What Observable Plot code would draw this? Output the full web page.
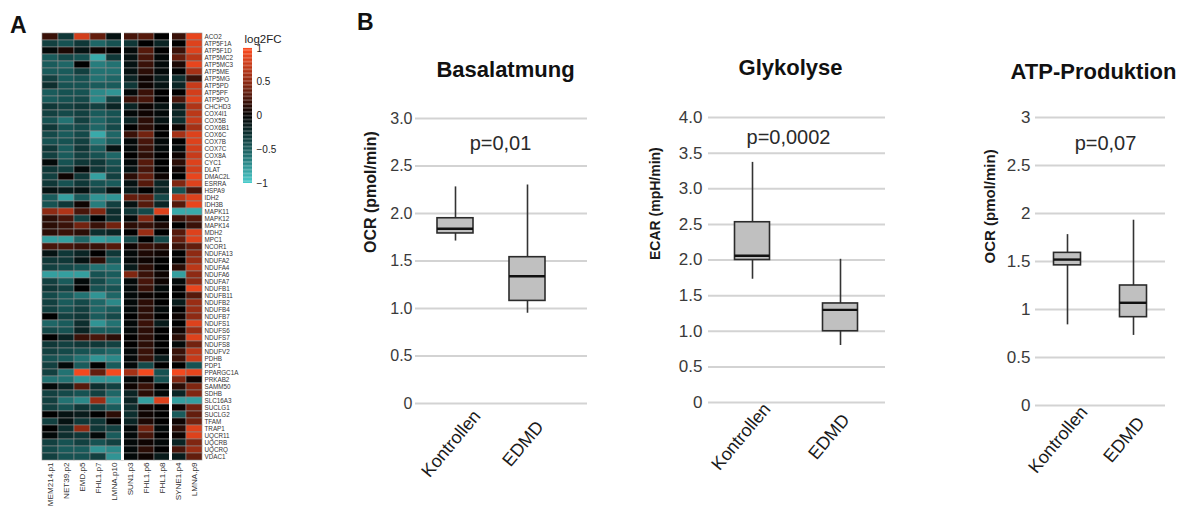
<!DOCTYPE html>
<html><head><meta charset="utf-8">
<script src="https://cdn.jsdelivr.net/npm/d3@7"></script>
<script src="https://cdn.jsdelivr.net/npm/@observablehq/plot@0.6"></script>
<style>
body{margin:0;background:#fff;font-family:"Liberation Sans",Arial,sans-serif;}
#root{position:relative;width:1190px;height:514px;overflow:hidden;background:#fff;}
.abs{position:absolute;}
.panel{position:absolute;font-weight:bold;font-size:23px;line-height:23px;color:#111;}
</style></head><body><div id="root"></div>
<script>
// ---------- Panel A data ----------
const samples = ["MEM214.p1","NET39.p2","EMD.p5","FHL1.p7","LMNA.p10","SUN1.p3","FHL1.p6","FHL1.p8","SYNE1.p4","LMNA.p9"];
const groupStarts = ["SUN1.p3","SYNE1.p4"];
const genes = ["ACO2","ATP5F1A","ATP5F1D","ATP5MC2","ATP5MC3","ATP5ME","ATP5MG","ATP5PD","ATP5PF","ATP5PO","CHCHD3","COX4I1","COX5B","COX6B1","COX6C","COX7B","COX7C","COX8A","CYC1","DLAT","DMAC2L","ESRRA","HSPA9","IDH2","IDH3B","MAPK11","MAPK12","MAPK14","MDH2","MPC1","NCOR1","NDUFA13","NDUFA2","NDUFA4","NDUFA6","NDUFA7","NDUFB1","NDUFB11","NDUFB2","NDUFB4","NDUFB7","NDUFS1","NDUFS6","NDUFS7","NDUFS8","NDUFV2","PDHB","PDP1","PPARGC1A","PRKAB2","SAMM50","SDHB","SLC16A3","SUCLG1","SUCLG2","TFAM","TRAP1","UQCR11","UQCRB","UQCRQ","VDAC1"];
const log2fc = [
[0.2,-0.3,0.8,0.35,-0.1,0.25,0.3,0,0.2,0.9],
[-0.35,-0.45,-0.3,-0.55,-0.45,-0.3,0,-0.2,0,0.85],
[-0.05,0.1,-0.1,0.05,0,-0.05,0.3,0,0.2,0.85],
[-0.5,-0.4,-0.45,-0.85,-0.3,-0.1,0.25,-0.05,0.35,0.7],
[-0.5,-0.55,0,-0.65,-0.6,-0.1,0.2,-0.05,0.1,0.9],
[-0.5,-0.5,-0.35,-0.6,-0.6,-0.1,0.15,-0.05,0,0.6],
[-0.35,-0.5,-0.45,-0.6,-0.55,-0.2,0.05,-0.15,-0.25,0.2],
[-0.25,-0.45,-0.45,-0.5,-0.5,-0.3,0.05,-0.1,-0.2,0.75],
[-0.5,-0.45,-0.45,-0.7,-0.75,-0.05,0.2,0,0,0.8],
[-0.5,-0.45,-0.4,-0.7,-0.35,0.2,0.25,0,0.25,0.85],
[-0.3,-0.35,-0.3,-0.35,-0.2,-0.2,0.05,-0.1,-0.15,0.65],
[-0.35,-0.4,-0.35,-0.5,-0.45,-0.05,0.05,-0.05,-0.2,0.7],
[-0.45,-0.6,-0.35,-0.55,-0.45,-0.2,0.15,-0.1,-0.25,0.75],
[-0.3,-0.45,-0.4,-0.55,-0.4,0,0.15,0,0.05,0.6],
[-0.4,-0.5,-0.4,-0.85,-0.55,0.2,0.4,0,0.6,0.85],
[-0.45,-0.45,-0.35,-0.65,-0.5,-0.05,0.25,-0.05,0,0.85],
[-0.3,-0.5,-0.3,-0.5,-0.1,-0.05,0.2,-0.05,-0.05,0.8],
[-0.35,-0.5,-0.35,-0.45,-0.55,0,0.15,0,0.05,0.75],
[-0.05,-0.45,-0.3,-0.3,-0.45,-0.05,0.3,0,0.15,0.85],
[-0.3,-0.35,-0.05,-0.3,-0.4,-0.1,0.25,0,0.05,0.8],
[-0.35,0.05,-0.3,-0.8,-0.35,0.15,0.35,0.05,0,0.9],
[-0.3,-0.45,-0.3,-0.45,-0.5,-0.1,0.3,-0.2,0.45,0.85],
[-0.1,-0.15,-0.1,-0.35,-0.1,-0.15,0,-0.2,-0.45,0.25],
[-0.5,-0.8,-0.5,-0.75,-0.75,0.35,0.35,-0.4,0.7,0.85],
[-0.45,-0.3,0.05,-0.65,-0.35,-0.1,0.3,-0.2,0.3,0.9],
[0.5,0.65,0.25,0.45,-0.25,-0.3,-0.4,0.85,-0.85,-0.85],
[0.15,0.25,-0.35,0,-0.25,-0.05,0.45,0,0.2,0.3],
[0.15,0.2,0.4,0.2,0.4,0.15,0.2,0.1,0,0.2],
[0.15,0.2,0.15,-0.25,-0.2,0,0.55,0,0.3,0.85],
[-0.8,-0.8,-0.55,-0.8,-0.75,-0.4,0,-0.4,0.35,0.85],
[0.25,0.25,0.2,0.2,0.3,0.05,0.2,0.15,0.2,0.35],
[-0.1,-0.3,-0.2,0,-0.3,-0.05,0.1,0.05,0,0.5],
[-0.3,-0.3,-0.1,0.15,-0.45,-0.05,0.05,0,0,0.55],
[-0.35,-0.4,-0.45,-0.6,-0.6,-0.15,0.15,0,0.15,0.7],
[-0.8,-0.8,-0.8,-0.45,-0.5,0.45,0.2,0.05,-0.8,0.5],
[-0.35,-0.5,-0.05,-0.4,-0.55,-0.05,0.25,0.05,-0.05,0.5],
[-0.3,-0.35,0,-0.45,-0.45,-0.05,0.2,-0.05,0,0.9],
[-0.4,-0.5,-0.6,-0.75,-0.55,-0.05,0.05,0,0,0.3],
[-0.35,-0.5,-0.4,-0.55,-0.7,-0.05,0.15,0,-0.15,0.55],
[-0.35,-0.45,-0.35,-0.55,-0.5,-0.05,0.15,-0.05,0,0.55],
[0,-0.35,-0.3,-0.5,-0.4,0,0.15,0,0.05,0.5],
[-0.55,-0.5,-0.25,-0.75,-0.6,-0.05,0.2,-0.15,0,0.85],
[-0.4,-0.45,-0.2,-0.5,-0.5,-0.05,0.15,0,0.05,0.55],
[0,-0.2,0.2,0.25,0.15,0,0.15,0,0.15,0.85],
[-0.3,-0.35,-0.3,-0.3,-0.35,0,0.15,0,-0.05,0.4],
[-0.35,-0.4,-0.45,-0.5,-0.55,-0.05,0.2,0,0.2,0.7],
[-0.45,-0.5,-0.6,-0.75,-0.7,-0.05,0.2,-0.15,0.2,0.75],
[-0.35,-0.05,-0.5,0,-0.5,-0.05,-0.4,0,0,-0.45],
[-0.35,-0.6,0.95,0.35,0.95,0.6,0.95,-0.45,0.95,0.9],
[-0.6,-0.6,-0.75,-0.75,-0.75,-0.05,0.05,-0.45,0.45,0.05],
[-0.05,-0.2,0.3,-0.25,-0.35,0.05,0.2,0,0.15,0.45],
[-0.35,-0.4,-0.45,-0.35,-0.55,-0.2,0.15,-0.05,-0.2,0.45],
[-0.35,-0.6,-0.7,0.55,-0.7,-0.2,-0.8,0.85,-0.8,-0.8],
[-0.35,-0.45,-0.3,-0.35,-0.5,-0.25,0.05,0,0.05,0.4],
[0,-0.1,-0.15,0,0.15,-0.25,0.05,0,-0.5,0.35],
[-0.35,-0.1,-0.3,-0.3,0,-0.2,0.1,0,0.05,0.4],
[0,-0.25,0.5,-0.3,-0.35,-0.05,0.4,-0.05,0.15,0.85],
[-0.05,-0.25,-0.3,-0.05,-0.5,-0.05,0.25,0,0.05,0.85],
[-0.35,-0.45,-0.35,-0.45,-0.35,-0.05,0.05,-0.05,-0.2,0.45],
[-0.4,-0.5,-0.5,-0.75,-0.7,-0.05,0.15,0,0.25,0.55],
[-0.35,-0.45,-0.45,-0.35,-0.75,-0.05,0.05,-0.15,-0.15,0.35]
];
const legendTicks = [-1,-0.5,0,0.5,1];
const legendSteps = d3.range(-1, 1, 0.02);

// ---------- Panel B data ----------
const boxGroups = ["Kontrollen","EDMD"];
// [lower whisker, Q1, median, Q3, upper whisker]
const basalatmung = [[1.71,1.79,1.84,1.95,2.28],[0.95,1.08,1.34,1.54,2.30]];
const glykolyse = [[1.73,2.00,2.06,2.53,3.37],[0.80,1.00,1.30,1.39,2.01]];
const atpProduktion = [[0.84,1.46,1.52,1.59,1.78],[0.73,0.92,1.07,1.25,1.93]];
const ticks3 = [0,0.5,1,1.5,2,2.5,3];
const ticks4 = [0,0.5,1,1.5,2,2.5,3,3.5,4];

const root = document.getElementById("root");
function place(node, left, top) {
  const d = document.createElement("div");
  d.className = "abs"; d.style.left = left + "px"; d.style.top = top + "px";
  d.appendChild(node); root.appendChild(d);
}
const FONT = "'Liberation Sans', Arial, sans-serif";
const colorScale = {
  type: "linear", domain: [-1, 1], clamp: true,
  interpolate: d3.piecewise(d3.interpolateRgb, ["#46cccc", "#195b5b", "#000000", "#8e2a13", "#ff4c20"])
};

// ---------- Heatmap ----------
const cells = genes.flatMap((g, i) => samples.map((s, j) => ({gene: g, sample: s, value: log2fc[i][j]})));
const heat = Plot.plot({
  width: 240, height: 514,
  marginLeft: 42, marginRight: 38, marginTop: 32, marginBottom: 54,
  style: {fontFamily: FONT, color: "#333", background: "transparent"},
  x: {domain: samples, padding: 0, axis: null},
  y: {domain: genes, padding: 0, axis: null},
  color: colorScale,
  marks: [
    Plot.cell(cells, {x: "sample", y: "gene", fill: "value", stroke: "#8c8c8c", strokeWidth: 0.6}),
    Plot.ruleX(groupStarts, {x: d => d, dx: -8, stroke: "white", strokeWidth: 3}),
    Plot.axisY({anchor: "right", tickSize: 0, tickPadding: 2, fontSize: 6.3, label: null}),
    Plot.axisX({anchor: "bottom", tickRotate: -90, tickSize: 0, tickPadding: 2, fontSize: 8.1, label: null})
  ]
});
place(heat, 0, 0);

// ---------- Color legend ----------
const legend = Plot.plot({
  width: 60, height: 200,
  marginLeft: 13, marginRight: 38, marginTop: 48, marginBottom: 17,
  style: {fontFamily: FONT, color: "#222", background: "transparent"},
  y: {domain: [-1, 1], axis: null},
  color: colorScale,
  marks: [
    Plot.rect(legendSteps, {y1: d => d, y2: d => d + 0.021, fill: d => d + 0.01}),
    Plot.axisY({ticks: legendTicks, tickFormat: d => d < 0 ? "\u2212" + String(-d) : String(d), anchor: "right", tickSize: 0, tickPadding: 4, fontSize: 10, label: null}),
    Plot.text(["log2FC"], {frameAnchor: "top-left", dx: 1, dy: -14, textAnchor: "start", fontSize: 11.5, fill: "#222"})
  ]
});
place(legend, 230, 0);

// ---------- Box plots ----------
function boxPanel(o) {
  const rows = boxGroups.map((g, i) => ({group: g, lo: o.stats[i][0], q1: o.stats[i][1], median: o.stats[i][2], q3: o.stats[i][3], hi: o.stats[i][4]}));
  const [c1, c2] = o.centers.map(c => c - o.left);
  const bw = o.bw;
  const fr = (o.ml + o.width - o.mr) / 2;
  const chart = Plot.plot({
    width: o.width, height: 514,
    marginLeft: o.ml, marginRight: o.mr, marginTop: o.mt, marginBottom: o.mb,
    style: {fontFamily: FONT, color: "#333", background: "transparent"},
    x: {domain: boxGroups, range: [c1 - bw / 2, c2 + bw / 2], paddingInner: 1 - bw / (c2 - c1), paddingOuter: 0, round: false, axis: null},
    y: {domain: [0, o.yMax], axis: null},
    marks: [
      Plot.ruleY(o.ticks, {stroke: "#d3d3d3", strokeWidth: 2}),
      Plot.axisY({ticks: o.ticks, tickSize: 0, tickPadding: o.tickPad, fontSize: o.tickFont, tickFormat: o.fmt, label: null, fill: "#3a3a3a"}),
      Plot.ruleX(rows, {x: "group", y1: "lo", y2: "hi", stroke: "#333", strokeWidth: 1.6}),
      Plot.barY(rows, {x: "group", y1: "q1", y2: "q3", fill: "#c0c0c0", stroke: "#2b2b2b", strokeWidth: 1.6}),
      Plot.tickY(rows, {x: "group", y: "median", stroke: "#111", strokeWidth: 2.4}),
      Plot.text(rows, {x: "group", text: "group", frameAnchor: "bottom", dx: o.xlabDx, dy: o.xlabDy, rotate: -50, textAnchor: "middle", fontSize: 18, fill: "#1a1a1a"}),
      Plot.text([o.title], {frameAnchor: "top", dx: o.titleX - o.left - fr, dy: o.titleY - o.mt, fontSize: 22, fontWeight: "bold", fill: "#111", lineAnchor: "middle", letterSpacing: 0.9}),
      Plot.text([o.p], {frameAnchor: "top", dx: o.pX - o.left - fr, dy: o.pY - o.mt, fontSize: 20, fill: "#2a2a2a", lineAnchor: "middle"}),
      Plot.text([o.ylabel], {frameAnchor: "left", dx: o.ylabX - o.left - o.ml, dy: o.ylabDy, rotate: -90, fontSize: o.ylabFont, fontWeight: "bold", fill: "#1a1a1a", lineAnchor: "middle"})
    ]
  });
  place(chart, o.left, 0);
}
const fmt1 = d => d === 0 ? "0" : d.toFixed(1);
boxPanel({left: 350, width: 250, ml: 65, mr: 13, mt: 118, mb: 111, yMax: 3, ticks: ticks3, fmt: fmt1, tickPad: 3, tickFont: 16,
  stats: basalatmung, centers: [455, 527], bw: 36, xlabDx: 0, xlabDy: 44,
  title: "Basalatmung", titleX: 505, titleY: 69, p: "p=0,01", pX: 500, pY: 143,
  ylabel: "OCR (pmol/min)", ylabX: 370, ylabDy: -8, ylabFont: 16});
boxPanel({left: 640, width: 260, ml: 68, mr: 15, mt: 117, mb: 112, yMax: 4, ticks: ticks4, fmt: fmt1, tickPad: 6, tickFont: 17,
  stats: glykolyse, centers: [752, 840], bw: 35, xlabDx: -7, xlabDy: 38,
  title: "Glykolyse", titleX: 790, titleY: 67, p: "p=0,0002", pX: 788, pY: 137,
  ylabel: "ECAR (mpH/min)", ylabX: 655, ylabDy: 0, ylabFont: 14});
boxPanel({left: 930, width: 260, ml: 105, mr: 25, mt: 117, mb: 109, yMax: 3, ticks: ticks3, fmt: d => String(d), tickPad: 5, tickFont: 17,
  stats: atpProduktion, centers: [1067, 1133], bw: 27, xlabDx: -5, xlabDy: 38,
  title: "ATP-Produktion", titleX: 1093, titleY: 71, p: "p=0,07", pX: 1105, pY: 143,
  ylabel: "OCR (pmol/min)", ylabX: 990, ylabDy: 2, ylabFont: 15});

// Panel letters
for (const [t, x, y] of [["A", 10, 14], ["B", 357, 11]]) {
  const d = document.createElement("div");
  d.className = "panel"; d.textContent = t; d.style.left = x + "px"; d.style.top = y + "px";
  root.appendChild(d);
}
</script></body></html>
